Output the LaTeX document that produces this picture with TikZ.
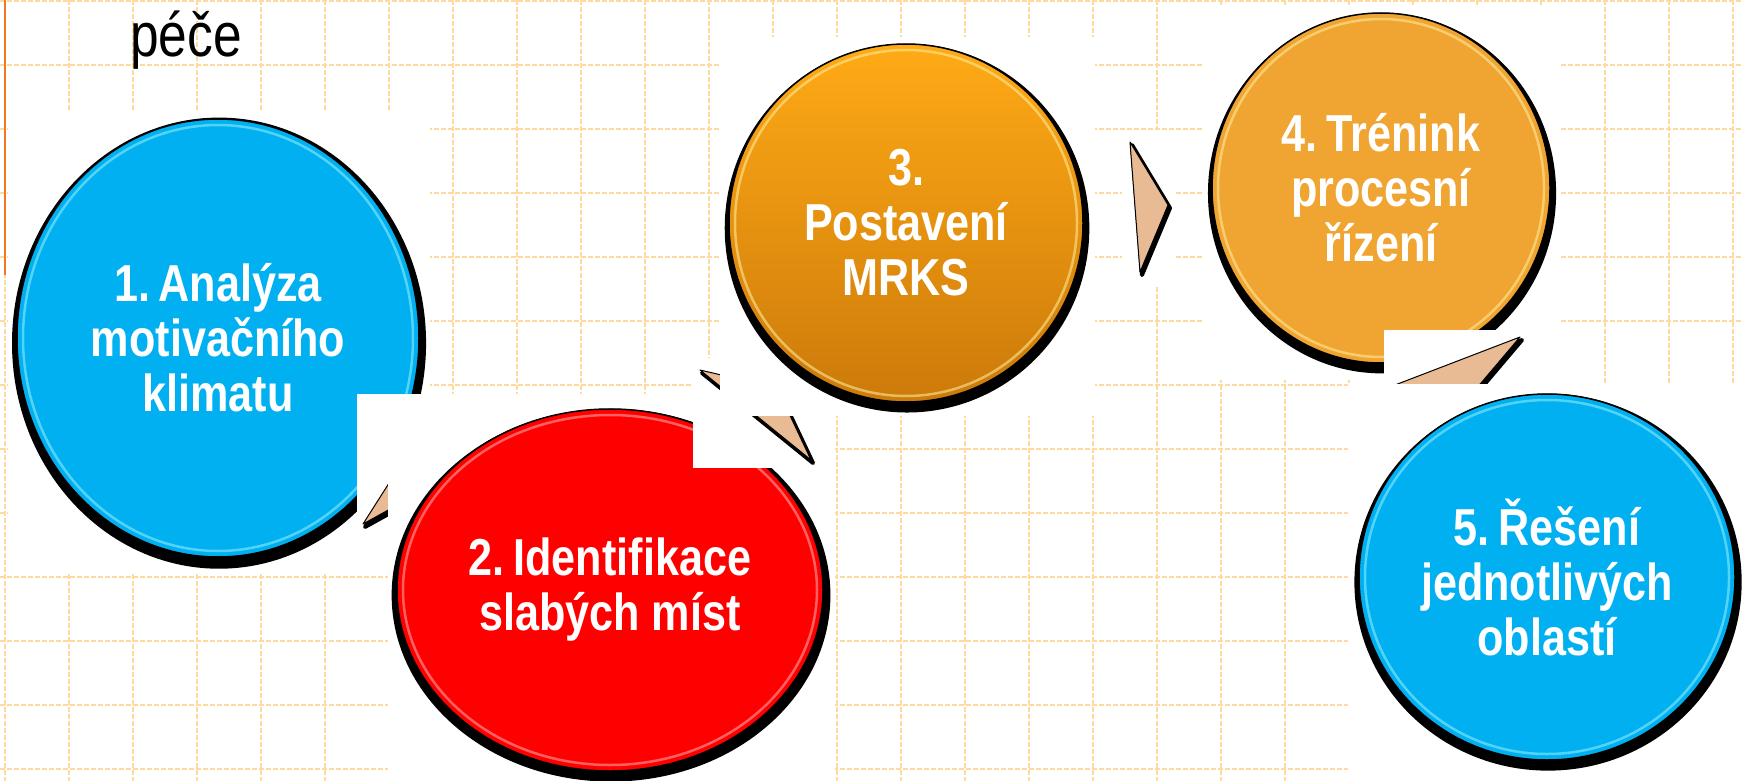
\documentclass[tikz,border=0pt]{standalone}
\usepackage{fontspec}
\newfontfamily\narrowfont[FakeStretch=0.83]{Liberation Sans}
\usetikzlibrary{shapes.geometric,shadows,calc}

\definecolor{slideblue}{RGB}{0,176,240}
\definecolor{slidered}{RGB}{255,0,0}
\definecolor{orangetop}{RGB}{255,170,22}
\definecolor{orangebottom}{RGB}{204,122,10}
\definecolor{orangeflat}{RGB}{240,164,49}
\definecolor{gridorange}{RGB}{254,218,158}
\definecolor{edgeorange}{RGB}{240,120,30}
\definecolor{peach}{RGB}{233,187,148}
\definecolor{rimblue}{RGB}{150,240,255}
\definecolor{rimred}{RGB}{255,175,175}
\definecolor{rimorange}{RGB}{255,240,160}

\begin{document}
\begin{tikzpicture}[x=1pt,y=-1pt,
      grid_line/.style={
         draw=gridorange,
         line width=1.4pt,
         dash pattern=on 5pt off 2pt},
      white_box/.style={
         fill=white},
      circle_node/.style={
         ellipse,
         draw=black,
         line width=1.5pt,
         inner sep=0pt,
         text=white,
         align=center,
         font=\narrowfont\bfseries\fontsize{52}{55}\selectfont,
         drop shadow={fill=black, opacity=1, shadow xshift=1pt,
            shadow yshift=-5pt, shadow scale=1.03}},
      rim/.style={
         path picture={
            \draw[draw=#1, line width=2.5pt, opacity=0.55]
               let \p1=(path picture bounding box.north east),
                   \p2=(path picture bounding box.center) in
               (\p2) ellipse [x radius=\x1-\x2-6pt, y radius=\y1-\y2-6pt];}},
      arrow_shadow/.style={
         draw=black,
         fill=black,
         line width=4pt,
         line join=round,
         xshift=2pt,
         yshift=-3pt},
      arrow_tri/.style={
         draw=black,
         fill=peach,
         line width=1pt,
         line join=round}
]
      \useasboundingbox (0,0) rectangle (1742,781);
      \fill[white] (0,0) rectangle (1742,781);

      %grid
      \foreach \k in {0,...,27}
        \draw[grid_line] (5+64*\k,0) -- (5+64*\k,781);
      \foreach \k in {0,...,12}
        \draw[grid_line] (0,1+64*\k) -- (1742,1+64*\k);
      \draw[draw=edgeorange, line width=2pt] (5,0) -- (5,275);

      \node[anchor=base west, inner sep=0pt,
            font=\narrowfont\fontsize{62}{62}\selectfont] (title) at (130,57) {péče};

      %step 1
      \fill[white_box] (8,110) rectangle (430,573);
      \node[circle_node, fill=slideblue, rim=rimblue,
            minimum width=402pt, minimum height=438pt] (c1) at (218,338)
            {1.\,Analýza\\motivačního\\klimatu};

      \fill[white_box] (357,394) rectangle (430,573);
      \draw[arrow_shadow] (363,524) -- (433,414) -- (428,488) -- cycle;
      \draw[arrow_tri] (363,524) -- (433,414) -- (428,488) -- cycle;

      %step 2
      \fill[white_box] (388,394) rectangle (835,781);
      \node[circle_node, fill=slidered, rim=rimred,
            minimum width=426pt, minimum height=362pt] (c2) at (610,590)
            {2.\,Identifikace\\slabých míst};

      \fill[white_box] (693,358) rectangle (835,468);
      \draw[arrow_shadow] (700,370) -- (777,388) -- (811,460) -- cycle;
      \draw[arrow_tri] (700,370) -- (777,388) -- (811,460) -- cycle;

      %step 3
      \fill[white_box] (720,37) rectangle (1095,416);
      \node[circle_node, top color=orangetop, bottom color=orangebottom, rim=rimorange,
            minimum width=354pt, minimum height=358pt] (c3) at (906,223)
            {3.\\Postavení\\MRKS};

      \fill[white_box] (1122,130) rectangle (1175,285);
      \draw[arrow_shadow] (1130,142) -- (1168,205) -- (1140,272) -- cycle;
      \draw[arrow_tri] (1130,142) -- (1168,205) -- (1140,272) -- cycle;

      %step 4
      \fill[white_box] (1204,5) rectangle (1559,380);
      \node[circle_node, fill=orangeflat, rim=rimorange,
            minimum width=338pt, minimum height=350pt] (c4) at (1381,188)
            {4.\,Trénink\\procesní\\řízení};

      \fill[white_box] (1384,330) rectangle (1542,384);
      \draw[arrow_shadow] (1395,385) -- (1520,337) -- (1470,396) -- cycle;
      \draw[arrow_tri] (1395,385) -- (1520,337) -- (1470,396) -- cycle;

      %step 5
      \fill[white_box] (1348,384) rectangle (1742,781);
      \node[circle_node, fill=slideblue, rim=rimblue,
            minimum width=376pt, minimum height=366pt] (c5) at (1547,577)
            {5.\,Řešení\\jednotlivých\\oblastí};

\end{tikzpicture}
\end{document}
